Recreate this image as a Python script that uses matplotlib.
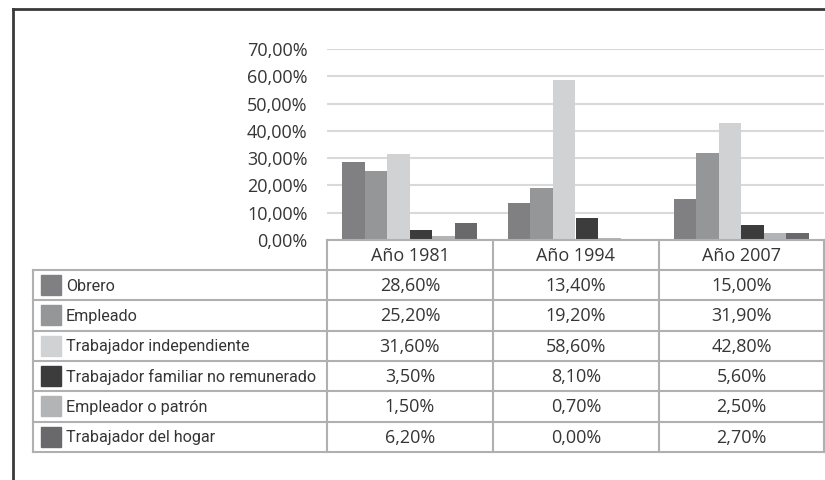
import numpy as np
import matplotlib.pyplot as plt
from matplotlib.lines import Line2D
from matplotlib.patches import Rectangle

years = ["Año 1981", "Año 1994", "Año 2007"]
series = ["Obrero", "Empleado", "Trabajador independiente",
          "Trabajador familiar no remunerado", "Empleador o patrón",
          "Trabajador del hogar"]
obrero = [28.6, 13.4, 15.0]
empleado = [25.2, 19.2, 31.9]
independiente = [31.6, 58.6, 42.8]
familiar = [3.5, 8.1, 5.6]
empleador = [1.5, 0.7, 2.5]
hogar = [6.2, 0.0, 2.7]
values = [obrero, empleado, independiente, familiar, empleador, hogar]
yticks = [0, 10, 20, 30, 40, 50, 60, 70]

colors = ["#808083", "#959698", "#d1d2d4", "#3c3c3d", "#b3b4b6", "#69696c"]
txt = "#353535"
plt.rcParams['font.family'] = ['Open Sans', 'DejaVu Sans']


def pct(v):
    return f"{v:.2f}%".replace(".", ",")


W, H = 825, 480
fig = plt.figure(figsize=(W / 100, H / 100), dpi=100)

# chart area (pixel layout)
px_l, px_r, px_top, px_bot = 327, 824, 49, 240
ax = fig.add_axes([px_l / W, 1 - px_bot / H, (px_r - px_l) / W, (px_bot - px_top) / H])
ax.set_xlim(-0.5, len(years) - 0.5)
ax.set_ylim(0, 70)
ax.set_yticks(yticks)
ax.set_yticklabels([pct(t) for t in yticks], fontsize=13, color=txt)
ax.tick_params(axis="y", length=0, pad=14)
ax.set_xticks([])
for s in ax.spines.values():
    s.set_visible(False)
ax.grid(axis="y", color="#d9d9d9", lw=1.5)
ax.set_axisbelow(True)

bw = 0.136
x = np.arange(len(years))
n = len(series)
for i, (vals, c) in enumerate(zip(values, colors)):
    ax.bar(x + (i - (n - 1) / 2) * bw, vals, width=bw, color=c, zorder=3)

# table area in pixel coordinates
tx = fig.add_axes([0, 0, 1, 1])
tx.set_xlim(0, W)
tx.set_ylim(H, 0)
tx.axis("off")

lc, lw = "#b0b0b0", 1.5
col_x = [33, 327, 493, 659, 824]
hdr_top, hdr_bot = 240, 270
row_h = 30.3
row_y = [hdr_bot + k * row_h for k in range(n + 1)]

# header cells
for xc in col_x[1:]:
    tx.plot([xc, xc], [hdr_top, hdr_bot], color=lc, lw=lw)
tx.plot([col_x[1], col_x[-1]], [hdr_top, hdr_top], color=lc, lw=lw)
for j, yr in enumerate(years):
    tx.text((col_x[j + 1] + col_x[j + 2]) / 2, (hdr_top + hdr_bot) / 2 + 1, yr,
            ha="center", va="center", fontsize=13, color=txt)

# body grid
for yy in row_y:
    tx.plot([col_x[0], col_x[-1]], [yy, yy], color=lc, lw=lw)
for xc in col_x:
    tx.plot([xc, xc], [row_y[0], row_y[-1]], color=lc, lw=lw)

for i, name in enumerate(series):
    yc = (row_y[i] + row_y[i + 1]) / 2
    tx.add_patch(Rectangle((41, yc - 10), 20, 20, color=colors[i]))
    tx.text(66, yc + 1, name, ha="left", va="center", fontsize=11.6,
            family=['Roboto', 'DejaVu Sans'], color=txt)
    for j in range(len(years)):
        tx.text((col_x[j + 1] + col_x[j + 2]) / 2, yc + 1, pct(values[i][j]),
                ha="center", va="center", fontsize=13, color=txt)

# outer frame (left and top edges visible)
tx.add_line(Line2D([13, 13], [9, H], color="#3a3a3a", lw=2))
tx.add_line(Line2D([13, W], [9, 9], color="#3a3a3a", lw=2))

fig.savefig("out.png", dpi=100)
